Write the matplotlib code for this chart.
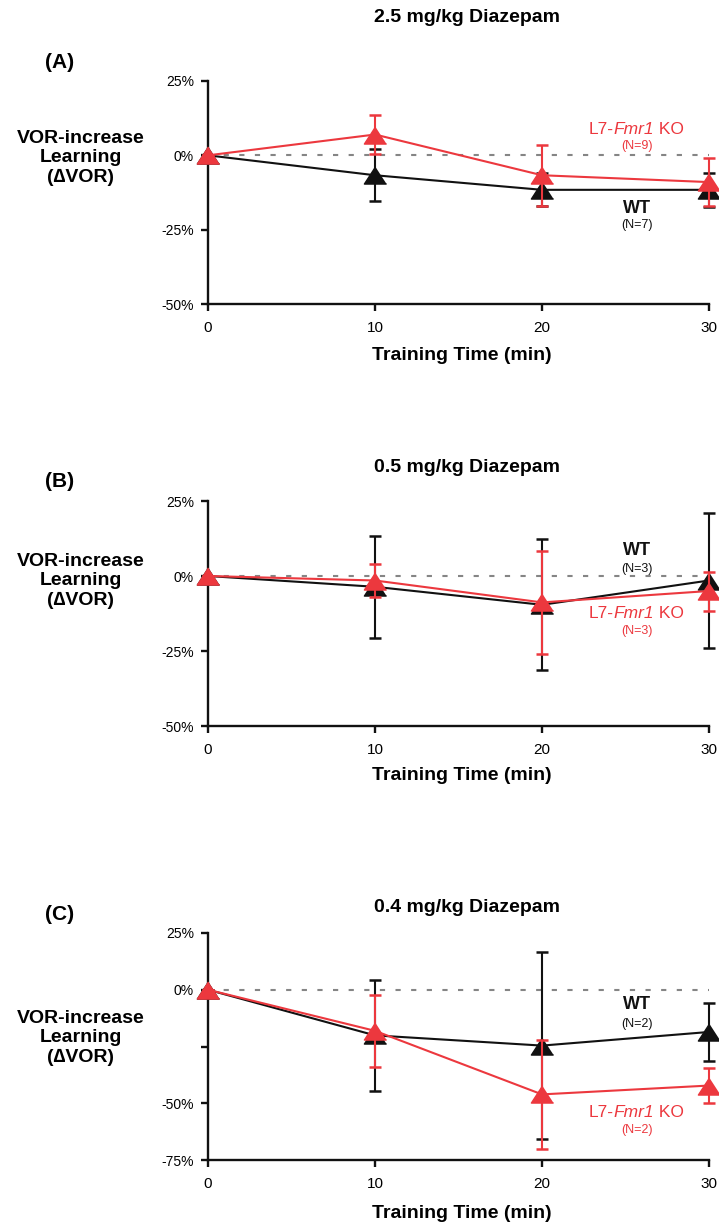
import numpy as np
import matplotlib
matplotlib.use('Agg')
import matplotlib.pyplot as plt

NARROW = ['Liberation Sans Narrow', 'Liberation Sans', 'DejaVu Sans']
WIDE = ['Liberation Sans', 'DejaVu Sans']
plt.rcParams['font.family'] = NARROW

# data (percent change in VOR gain)
time = [0, 10, 20, 30]
titles = ['2.5 mg/kg Diazepam', '0.5 mg/kg Diazepam', '0.4 mg/kg Diazepam']
panels = ['(A)', '(B)', '(C)']

wt_a = [0, -6.7, -11.6, -11.6]
wt_a_err = [0, 8.7, 5.5, 5.8]
ko_a = [0, 7.0, -6.7, -9.0]
ko_a_err = [0, 6.5, 10.2, 8.0]

wt_b = [0, -3.6, -9.6, -1.5]
wt_b_err = [0, 16.9, 21.8, 22.4]
ko_b = [0, -1.5, -8.8, -5.0]
ko_b_err = [0, 5.5, 17.2, 6.5]

wt_c = [0, -20.1, -24.6, -18.6]
wt_c_err = [0, 24.5, 41.2, 12.7]
ko_c = [0, -18.1, -46.1, -42.2]
ko_c_err = [0, 15.9, 23.9, 7.8]

n_wt = [7, 3, 2]
n_ko = [9, 3, 2]

RED = '#EC383E'
BLACK = '#111111'
tri = [(0, 0.77), (-1, -0.77), (1, -0.77)]

fig = plt.figure(figsize=(7.19, 12.28), dpi=100)

# axes boxes in pixels: top, bottom
boxes = [(81, 304), (501, 726), (933, 1160)]
ylims = [(-50, 25), (-50, 25), (-75, 25)]
series = [(wt_a, wt_a_err, ko_a, ko_a_err),
          (wt_b, wt_b_err, ko_b, ko_b_err),
          (wt_c, wt_c_err, ko_c, ko_c_err)]
# label placement (data coords): WT, (N), KO, (N)
label_y = [(-17.8, -23.5, 8.7, 3.0),
           (8.6, 2.5, -12.5, -18.3),
           (-6.4, -15.1, -54.0, -61.8)]
title_y = [18, 467, 907]
panel_y = [63, 482, 915]
ylab_y = [158, 581, 1038]
xlab_y = [355, 775, 1213]

H = 1228.0
W = 719.0
for i in range(3):
    top, bot = boxes[i]
    ax = fig.add_axes([208 / W, 1 - bot / H, 501 / W, (bot - top) / H])
    wt, wte, ko, koe = series[i]

    ax.axhline(0, color='#858585', lw=1.5, ls=(0, (2.5, 5)), zorder=1)
    ax.errorbar(time, wt, yerr=wte, color=BLACK, lw=1.5, elinewidth=1.5,
                capsize=4, capthick=1.8, marker=tri, ms=16, clip_on=False, zorder=3)
    ax.errorbar(time, ko, yerr=koe, color=RED, lw=1.5, elinewidth=1.5,
                capsize=4, capthick=1.8, marker=tri, ms=16, clip_on=False, zorder=4)

    lo, hi = ylims[i]
    ax.set_xlim(0, 30)
    ax.set_ylim(lo, hi)
    ax.set_xticks(time)
    yt = list(range(hi, lo - 1, -25))
    ax.set_yticks(yt)
    ax.set_yticklabels(['' if (i == 2 and v == -25) else f'{v}%' for v in yt])
    for s in ['top', 'right']:
        ax.spines[s].set_visible(False)
    for s in ['left', 'bottom']:
        ax.spines[s].set_linewidth(1.7)
        ax.spines[s].set_color(BLACK)
    ax.tick_params(axis='both', direction='out', length=5, width=1.7, color=BLACK)
    ax.tick_params(axis='y', labelsize=10, pad=5)
    ax.tick_params(axis='x', labelsize=11, pad=7)

    ly = label_y[i]
    ax.text(25.7, ly[0], 'WT', color=BLACK, fontsize=13, fontweight='bold',
            ha='center', va='center')
    ax.text(25.7, ly[1], f'(N={n_wt[i]})', color=BLACK, fontsize=9,
            ha='center', va='center')
    # "L7-Fmr1 KO" with the gene name in italics, laid out in three pieces
    t1 = ax.text(22.8, ly[2], 'L7-', color=RED, fontsize=12.5,
                 ha='left', va='center')
    t2 = ax.annotate('Fmr1', xy=(1, 0), xycoords=t1, color=RED, fontsize=12.5,
                     style='italic', ha='left', va='bottom')
    ax.annotate(' KO', xy=(1, 0), xycoords=t2, color=RED, fontsize=12.5,
                ha='left', va='bottom')
    ax.text(25.7, ly[3], f'(N={n_ko[i]})', color=RED, fontsize=9,
            ha='center', va='center')

    fig.text(467 / W, 1 - title_y[i] / H, titles[i], fontsize=14,
             fontweight='bold', ha='center', va='center')
    fig.text(45 / W, 1 - panel_y[i] / H, panels[i], fontsize=15,
             fontweight='bold', ha='left', va='center', family=WIDE)
    fig.text(81 / W, 1 - ylab_y[i] / H, 'VOR-increase\nLearning\n(\u2206VOR)',
             fontsize=14, fontweight='bold', ha='center', va='center',
             linespacing=1.2)
    fig.text(462 / W, 1 - xlab_y[i] / H, 'Training Time (min)', fontsize=14,
             fontweight='bold', ha='center', va='center')

fig.savefig('out.png', dpi=100)
